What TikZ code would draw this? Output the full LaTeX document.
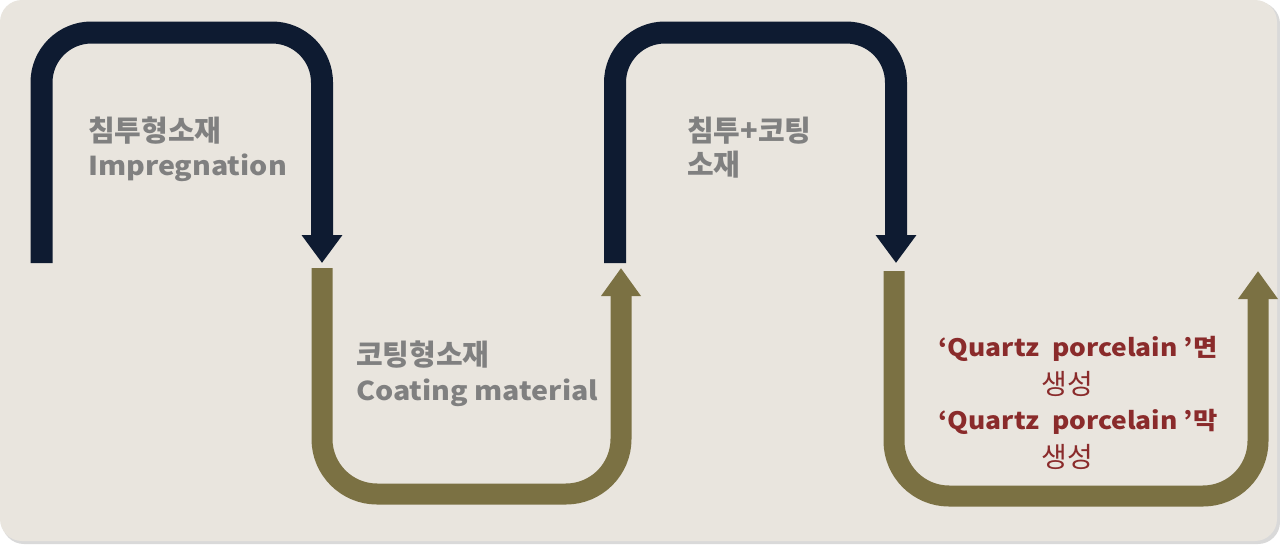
\documentclass[tikz,border=0pt]{standalone}
\usepackage{fontspec}
\usepackage{tikz}
\usetikzlibrary{arrows.meta}
\newfontfamily\krfont{Noto Sans CJK KR}
\newfontfamily\krwide{Noto Sans CJK KR}[FakeStretch=1.1]
\definecolor{navyband}{HTML}{0E1B31}
\definecolor{oliveband}{HTML}{7B7143}
\definecolor{greytext}{HTML}{808080}
\definecolor{redtext}{HTML}{8A2B2B}
\definecolor{paper}{HTML}{E9E5DE}

\begin{document}
\begin{tikzpicture}[x=1pt,y=-1pt,
    navyarrow/.style={draw=navyband,line width=22pt,rounded corners=50pt,-{Triangle[width=39pt,length=28pt]}},
    olivearrow/.style={draw=oliveband,line width=21pt,rounded corners=55pt,-{Triangle[width=38pt,length=28pt]}},
    greylabel/.style={anchor=base west,inner sep=0pt,text=greytext,font=\krfont\bfseries\fontsize{29}{32}\selectfont},
    greylatin/.style={greylabel,font=\krwide\bfseries\fontsize{26}{30}\selectfont},
    redlabel/.style={anchor=base,inner sep=0pt,text=redtext,font=\krwide\bfseries\fontsize{24}{28}\selectfont},
    redsub/.style={anchor=base,inner sep=0pt,text=redtext,font=\krfont\fontsize{28}{30}\selectfont}]
  \useasboundingbox (0,0) rectangle (1280,544);
  \fill[white] (0,0) rectangle (1280,544);
  \fill[black!15,rounded corners=22pt] (2,2) rectangle (1280,544);
  \fill[paper,rounded corners=22pt] (0,0) rectangle (1277,541);

  % end points of the four bands
  \coordinate (n1a) at (41.5,263);
  \coordinate (n1b) at (322,263);
  \coordinate (o1a) at (322,268);
  \coordinate (o1b) at (621,268);
  \coordinate (n2a) at (615,263);
  \coordinate (n2b) at (896,263);
  \coordinate (o2a) at (894,271);
  \coordinate (o2b) at (1258,271);

  \draw[navyarrow] (n1a) -- ++(0,-230.5) -| (n1b);
  \draw[olivearrow] (o1a) -- ++(0,226) -| (o1b);
  \draw[navyarrow] (n2a) -- ++(0,-230.5) -| (n2b);
  \draw[olivearrow] (o2a) -- ++(0,225) -| (o2b);

  \node[greylabel] (imp1) at (88,141) {침투형소재};
  \node[greylatin] (imp2) at (88,175) {Impregnation};
  \node[greylabel] (coat1) at (356,365) {코팅형소재};
  \node[greylatin] (coat2) at (356,400) {Coating material};
  \node[greylabel] (mix1) at (687,141) {침투+코팅};
  \node[greylabel] (mix2) at (687,175) {소재};

  \node[redlabel] (qp1) at (1078,356) {‘Quartz\ \ porcelain\ ’면};
  \node[redsub] (qp1b) at (1067,394) {생성};
  \node[redlabel] (qp2) at (1078,429) {‘Quartz\ \ porcelain\ ’막};
  \node[redsub] (qp2b) at (1067,467) {생성};
\end{tikzpicture}
\end{document}
